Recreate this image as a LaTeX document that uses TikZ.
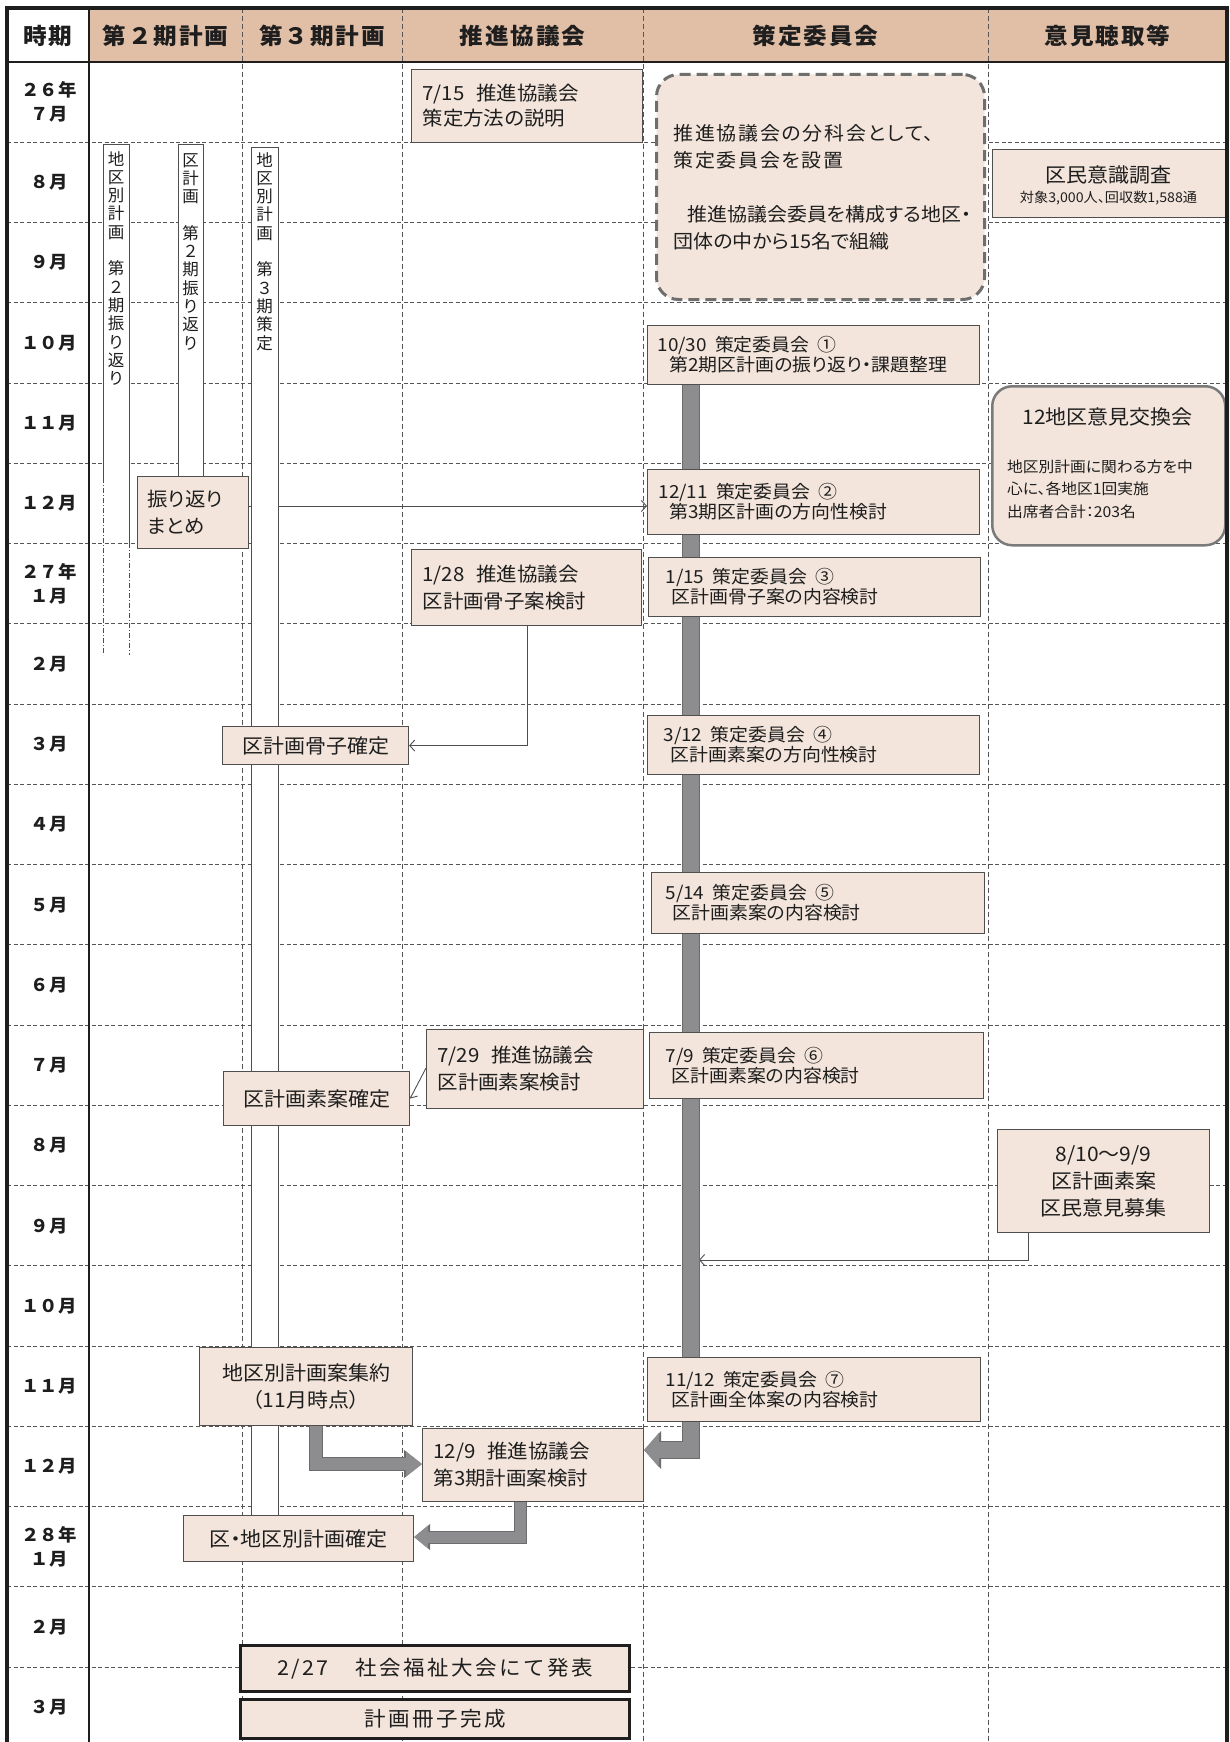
\documentclass[tikz,border=0pt]{standalone}
\usepackage{fontspec}
\setmainfont{Noto Sans CJK JP}
\newfontfamily\jp{Noto Sans CJK JP}[FakeStretch=1.05]
\newfontfamily\jpp{Noto Sans CJK JP}[FakeStretch=1.05,RawFeature=+palt]
\newfontfamily\jpv{Noto Sans CJK JP}
\usetikzlibrary{arrows.meta}
\definecolor{hdr}{HTML}{E1BEA6}
\definecolor{pch}{HTML}{F3E5DB}
\definecolor{bdr}{HTML}{4F4F4F}
\definecolor{grd}{HTML}{555555}
\definecolor{ink}{HTML}{1E1E1E}
\definecolor{blk}{HTML}{8D8D8F}
\definecolor{blkd}{HTML}{6C6C6C}
\definecolor{dgray}{HTML}{6E6E6E}
\definecolor{rgray}{HTML}{7A7A7A}
\pgfdeclarelayer{bg}\pgfdeclarelayer{lines}\pgfsetlayers{bg,lines,main}
\newcommand\fz[2]{\fontsize{#1}{#2}\selectfont}
\newcommand\gap{\hspace{.6em}}
\newcommand\sgap{\hspace{.45em}}
\newcommand\bxl[8]{%
 \pgfmathsetmacro\bw{#5-#3}\pgfmathsetmacro\bh{#6-#4}\pgfmathsetmacro\tw{#5-#3-2*#7}%
 \node[#1,anchor=north west,minimum width=\bw pt,minimum height=\bh pt,text width=\tw pt,inner xsep=#7pt,align=left] (#2) at (#3,#4) {#8};}
\newcommand\bxc[7]{%
 \pgfmathsetmacro\bw{#5-#3}\pgfmathsetmacro\bh{#6-#4}%
 \node[#1,anchor=north west,minimum width=\bw pt,minimum height=\bh pt,align=center] (#2) at (#3,#4) {#7};}
\tikzset{
 box/.style={draw=bdr,fill=pch,line width=1.1pt,inner ysep=0pt,text=ink},
 bigbox/.style={draw=ink,fill=pch,line width=3pt,inner ysep=0pt,text=ink},
 iinbox/.style={draw=dgray,fill=pch,line width=3pt,dash pattern=on 11pt off 6pt,rounded corners=22pt,inner ysep=0pt,text=ink},
 rbox/.style={draw=rgray,fill=pch,line width=2.5pt,rounded corners=20pt,inner sep=0pt},
 fA/.style={font=\jpp\fz{19.5}{27}},
 fB/.style={font=\jpp\fz{18}{20}},
 fC/.style={font=\jpp\fz{20}{27}},
 fD/.style={font=\jp\fz{20.5}{24}\addfontfeature{LetterSpace=12}},
 txt/.style={inner sep=0pt,text=ink},
 hlab/.style={txt,font=\jp\bfseries\fz{22.5}{26}\addfontfeature{LetterSpace=8}},
 mlab/.style={txt,font=\jp\bfseries\fz{17.5}{24},align=center},
 vtext/.style={txt,font=\jpv\fz{16.5}{18.3},align=center,anchor=north},
 hgrid/.style={draw=grd,line width=1pt,dash pattern=on 4pt off 2.5pt},
 vgrid/.style={draw=grd,line width=1pt,dash pattern=on 5pt off 3pt},
 vbar/.style={draw=bdr,line width=1pt},
 dashdot/.style={draw=bdr,line width=0.9pt,dash pattern=on 5pt off 2pt on 1pt off 2pt},
 thinarr/.style={draw=bdr,line width=0.9pt,-{Straight Barb[length=5pt,width=11pt]}},
 bk/.style n args={4}{draw=#1,line width=#2,line join=miter,-{Triangle[length=#3,width=#4]}},
}
\begin{document}
\begin{tikzpicture}[x=1pt,y=-1pt]
\useasboundingbox (0,0) rectangle (1229,1742);
\begin{pgfonlayer}{bg}
 \fill[white] (0,0) rectangle (1229,1742);
 \fill[hdr] (89,8) rectangle (1227,62);
 \foreach \i in {1,...,20} \draw[hgrid] (7,{62+80.26*\i}) -- (1227,{62+80.26*\i});
 \foreach \x in {242,402,643,988} \draw[vgrid] (\x,8) -- (\x,1742);
\end{pgfonlayer}

% header
\node[hlab] (h0) at (48,36) {時期};
\node[hlab] (h1) at (165.5,36) {第２期計画};
\node[hlab] (h2) at (322,36) {第３期計画};
\node[hlab] (h3) at (522.5,36) {推進協議会};
\node[hlab] (h4) at (815.5,36) {策定委員会};
\node[hlab] (h5) at (1107.5,36) {意見聴取等};

% month labels
\node[mlab] (m0) at (49,{62+80.26*0.5}) {２６年\\７月};
\node[mlab] (m6) at (49,{62+80.26*6.5}) {２７年\\１月};
\node[mlab] (m18) at (49,{62+80.26*18.5}) {２８年\\１月};
\foreach \r/\t in {1/８月,2/９月,3/１０月,4/１１月,5/１２月,7/２月,8/３月,9/４月,10/５月,11/６月,12/７月,13/８月,14/９月,15/１０月,16/１１月,17/１２月,19/２月,20/３月}
 \node[mlab] (m\r) at (49,{62+80.26*(\r+0.5)}) {\t};

% vertical bars
\fill[white] (103,144) rectangle (129,478);
\draw[vbar] (103,478) -- (103,144) -- (129,144) -- (129,543);
\draw[dashdot] (103,478) -- (103,655);
\draw[dashdot] (129,543) -- (129,655);
\node[vtext] (vA) at (116,151) {地\\区\\別\\計\\画\\　\\第\\２\\期\\振\\り\\返\\り};
\fill[white] (178,144) rectangle (203,476);
\draw[vbar] (178,476) -- (178,144) -- (203,144) -- (203,476);
\node[vtext] (vB) at (190.5,153) {区\\計\\画\\　\\第\\２\\期\\振\\り\\返\\り};
\fill[white] (251,147) rectangle (278,1515);
\draw[vbar] (251,1515) -- (251,147) -- (278,147) -- (278,1515);
\node[vtext] (vC) at (264.5,152) {地\\区\\別\\計\\画\\　\\第\\３\\期\\策\\定};

% 推進協議会 column
\bxl{box,font=\jpp\fz{19.5}{25}}{s715}{411}{69}{642}{142}{11}{7/15\gap 推進協議会\\策定方法の説明}
\bxl{box,fA}{s128}{411}{549}{641}{625}{11}{1/28\gap 推進協議会\\区計画骨子案検討}
\bxl{box,fA}{s729}{426}{1029}{643}{1108}{11}{7/29\gap 推進協議会\\区計画素案検討}
\bxl{box,fA}{s129}{422}{1428}{643}{1501}{11}{12/9\gap 推進協議会\\第3期計画案検討}

% 第2期 / 第3期 column boxes
\bxl{box,fA}{kaeri}{137}{476}{248}{548}{10}{振り返り\\まとめ}
\bxc{box,fC}{kosshi}{222}{726}{408}{764}{区計画骨子確定}
\bxc{box,fC}{soan}{223}{1071}{409}{1125}{区計画素案確定}
\bxc{box,fC}{shuyaku}{199}{1347}{412}{1425}{地区別計画案集約\\（11月時点）}
\bxc{box,fC}{kakutei}{183}{1515}{413}{1561}{区・地区別計画確定}
\bxc{bigbox,fD}{happyo}{239}{1644}{628}{1690}{2/27　社会福祉大会にて発表}
\bxc{bigbox,fD}{sasshi}{239}{1698}{628}{1737}{計画冊子完成}

% 策定委員会 column
\bxl{iinbox,font=\jpp\fz{19}{27}}{iin}{655}{73}{983}{298}{17}{{\addfontfeature{LetterSpace=9}推進協議会の分科会として、}\\{\addfontfeature{LetterSpace=9}策定委員会を設置}\\[27pt]\hspace*{14pt}推進協議会委員を構成する地区・\\団体の中から15名で組織}
\bxl{box,fB}{c1030}{647}{325}{979}{384}{10}{10/30\sgap 策定委員会\sgap ①\\\hspace*{12pt}第2期区計画の振り返り・課題整理}
\bxl{box,fB}{c1211}{647}{469}{979}{534}{11}{12/11\sgap 策定委員会\sgap ②\\\hspace*{11pt}第3期区計画の方向性検討}
\bxl{box,fB}{c115}{648}{557}{980}{616}{17}{1/15\sgap 策定委員会\sgap ③\\\hspace*{6pt}区計画骨子案の内容検討}
\bxl{box,fB}{c312}{647}{715}{979}{774}{16}{3/12\sgap 策定委員会\sgap ④\\\hspace*{7pt}区計画素案の方向性検討}
\bxl{box,fB}{c514}{651}{872}{984}{933}{14}{5/14\sgap 策定委員会\sgap ⑤\\\hspace*{7pt}区計画素案の内容検討}
\bxl{box,fB}{c79}{649}{1032}{983}{1098}{16}{7/9\sgap 策定委員会\sgap ⑥\\\hspace*{6pt}区計画素案の内容検討}
\bxl{box,fB}{c1112}{647}{1357}{980}{1421}{18}{11/12\sgap 策定委員会\sgap ⑦\\\hspace*{6pt}区計画全体案の内容検討}

% 意見聴取等 column
\bxc{box}{ishiki}{992}{149}{1225}{217}{}
\node[txt,font=\jpp\fz{20}{24}] (ishikiT) at (1108.5,175) {区民意識調査};
\node[txt,font=\jpp\fz{13.5}{16}] (ishikiS) at (1108.5,198) {対象3,000人、回収数1,588通};
\bxc{rbox}{kyo12}{991}{385}{1224}{544}{}
\node[txt,font=\jpp\fz{20}{24}] (kyo12T) at (1107.5,417) {12地区意見交換会};
\node[txt,font=\jpp\fz{15}{22.5},align=left,anchor=west] (kyo12B) at (1007,489) {地区別計画に関わる方を中\\心に、各地区1回実施\\出席者合計：203名};
\bxc{box,fC}{iken}{997}{1129}{1209}{1232}{8/10〜9/9\\区計画素案\\区民意見募集}

% helper coordinates
\coordinate (tlx) at (691,0);
\coordinate (tly) at (0,1450);
\coordinate (ax1) at (316,0);
\coordinate (ay1) at (0,1464);
\coordinate (ax2) at (520,0);
\coordinate (ay2) at (0,1537);
\coordinate (ya) at (0,506);
\coordinate (xb) at (527,0);
\coordinate (yc) at (0,1068);
\coordinate (xd) at (1028,0);
\coordinate (tl1260) at (699,1260);

% block arrows
\draw[bk={blkd}{14pt}{18pt}{27pt}] (shuyaku.south -| ax1) -- (ax1 |- ay1) -- (s129.west |- ay1);
\draw[bk={blk}{12pt}{16pt}{24pt}] (shuyaku.south -| ax1) -- (ax1 |- ay1) -- (s129.west |- ay1);
\draw[bk={blkd}{13pt}{16pt}{25pt}] (s129.south -| ax2) -- (ax2 |- ay2) -- (kakutei.east |- ay2);
\draw[bk={blk}{11pt}{14pt}{22pt}] (s129.south -| ax2) -- (ax2 |- ay2) -- (kakutei.east |- ay2);

\begin{pgfonlayer}{lines}
 \draw[thinarr] (kaeri.east |- ya) -- (c1211.west |- ya);
 \draw[thinarr] (s128.south -| xb) |- (kosshi.east);
 \draw[thinarr] (s729.west |- yc) -- (soan.east);
 \draw[thinarr] (iken.south -| xd) |- (tl1260);
 \draw[bk={blkd}{18pt}{17pt}{37pt}] (c1030.south -| tlx) -- (tlx |- tly) -- (s129.east |- tly);
 \draw[bk={blk}{16pt}{15pt}{34pt}] (c1030.south -| tlx) -- (tlx |- tly) -- (s129.east |- tly);
\end{pgfonlayer}

% frame
\draw[ink,line width=2pt] (7,62) -- (1227,62);
\draw[ink,line width=2pt] (89,8) -- (89,1742);
\draw[ink,line width=3.5pt] (7,1742) -- (7,8) -- (1227,8) -- (1227,1742);
\end{tikzpicture}
\end{document}
